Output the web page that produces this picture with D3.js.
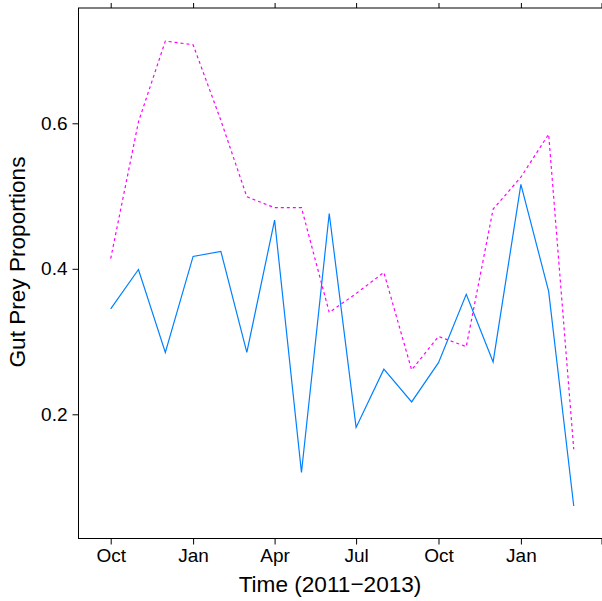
<!DOCTYPE html>
<html lang="en">

<head>
	<meta charset="utf-8">
	<title>Gut Prey Proportions</title>
	<script src="https://d3js.org/d3.v7.min.js"></script>
	<style>
		body { margin: 0; background: #fff; }
		text { font-family: "Liberation Sans", Arial, sans-serif; }
	</style>
</head>

<body>
	<div id="chart"></div>

	<script>
		// monthly samples, Oct 2011 .. Mar 2013
		const months = ["2011-10", "2011-11", "2011-12", "2012-01", "2012-02", "2012-03",
			"2012-04", "2012-05", "2012-06", "2012-07", "2012-08", "2012-09",
			"2012-10", "2012-11", "2012-12", "2013-01", "2013-02", "2013-03"];
		const seriesA = [0.345, 0.399, 0.285, 0.417, 0.424, 0.285,
			0.467, 0.120, 0.476, 0.182, 0.262, 0.217,
			0.271, 0.365, 0.272, 0.516, 0.369, 0.074];
		const seriesB = [0.414, 0.602, 0.713, 0.708, 0.604, 0.499,
			0.484, 0.484, 0.340, 0.366, 0.395, 0.261,
			0.307, 0.293, 0.482, 0.526, 0.585, 0.152];
		const xTicks = ["2011-10", "2012-01", "2012-04", "2012-07", "2012-10", "2013-01", "2013-04"];
		const xTickLabels = ["Oct", "Jan", "Apr", "Jul", "Oct", "Jan", ""];
		const yTicks = [0.2, 0.4, 0.6];

		const width = 602, height = 601;
		const panel = { left: 78.5, right: 602.5, top: 8, bottom: 538.5 };
		const parse = d3.timeParse("%Y-%m");

		const x = d3.scaleTime()
			.domain([parse("2011-10"), parse("2013-04")])
			.range([110.7, 601.5]);
		const y = d3.scaleLinear()
			.domain([0.2, 0.6])
			.range([414.3, 123.3]);

		const svg = d3.select("#chart").append("svg")
			.attr("width", width)
			.attr("height", height);

		// panel box
		svg.append("rect")
			.attr("x", panel.left).attr("y", panel.top)
			.attr("width", panel.right - panel.left).attr("height", panel.bottom - panel.top)
			.attr("fill", "none").attr("stroke", "#000");

		// x axis (bottom with labels, top ticks only)
		const xAxis = d3.axisBottom(x)
			.tickValues(xTicks.map(parse))
			.tickFormat((d, i) => xTickLabels[i])
			.tickSize(6).tickPadding(4);
		const gx = svg.append("g").attr("transform", `translate(0,${panel.bottom})`).call(xAxis);
		gx.select(".domain").remove();
		gx.selectAll("text").attr("font-size", 19).attr("fill", "#000").attr("font-family", "Liberation Sans, Arial, sans-serif");

		const gxt = svg.append("g").attr("transform", `translate(0,${panel.top})`)
			.call(d3.axisTop(x).tickValues(xTicks.map(parse)).tickSize(5).tickFormat(""));
		gxt.select(".domain").remove();

		// y axis
		const gy = svg.append("g").attr("transform", `translate(${panel.left},0)`)
			.call(d3.axisLeft(y).tickValues(yTicks).tickFormat(d3.format(".1f")).tickSize(6).tickPadding(5));
		gy.select(".domain").remove();
		gy.selectAll("text").attr("font-size", 19).attr("fill", "#000").attr("font-family", "Liberation Sans, Arial, sans-serif");

		svg.selectAll(".tick line").attr("stroke", "#000");

		// lines
		const line = d3.line()
			.x((d, i) => x(parse(months[i])))
			.y(d => y(d));

		svg.append("path")
			.datum(seriesA)
			.attr("fill", "none")
			.attr("stroke", "#0080ff")
			.attr("stroke-width", 1.2)
			.attr("d", line);

		svg.append("path")
			.datum(seriesB)
			.attr("fill", "none")
			.attr("stroke", "#ff00ff")
			.attr("stroke-width", 1.2)
			.attr("stroke-dasharray", "3,3")
			.attr("d", line);

		// titles
		svg.append("text")
			.attr("x", 330)
			.attr("y", 592)
			.attr("text-anchor", "middle")
			.attr("font-size", 22.6)
			.text("Time (2011\u22122013)");

		svg.append("text")
			.attr("transform", "translate(25,262) rotate(-90)")
			.attr("text-anchor", "middle")
			.attr("font-size", 22.6)
			.text("Gut Prey Proportions");
	</script>
</body>

</html>
